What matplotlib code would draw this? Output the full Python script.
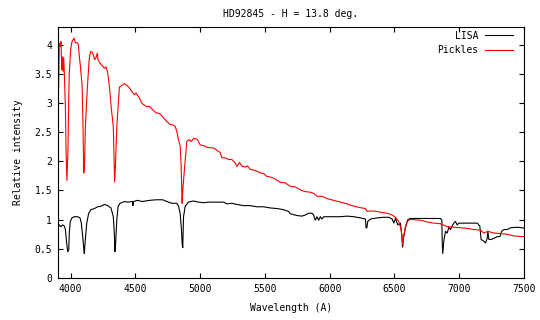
import matplotlib
matplotlib.use('Agg')
import matplotlib.pyplot as plt

# Pickles template (red)
pickles_wl = [3908, 3913, 3921, 3926, 3932, 3936, 3942, 3947, 3952, 3960, 3966, 3972, 3980,
              3986, 3990, 4001, 4011, 4027, 4037, 4052, 4060, 4068, 4075, 4089, 4096, 4102, 4108,
              4114, 4125, 4135, 4145, 4155, 4166, 4176, 4187, 4197, 4207, 4212, 4228, 4248,
              4261, 4274, 4287, 4300, 4313, 4330, 4336, 4340, 4346, 4357, 4367, 4377, 4390,
              4403, 4416, 4434, 4454, 4481, 4493, 4506, 4532, 4552, 4583, 4609, 4635, 4660,
              4686, 4712, 4743, 4769, 4794, 4807, 4820, 4833, 4846, 4854, 4858, 4861, 4866,
              4879, 4890, 4897, 4915, 4931, 4949, 4975, 4987, 5000, 5026, 5052, 5078, 5103,
              5129, 5155, 5168, 5193, 5219, 5245, 5271, 5284, 5304, 5322, 5348, 5366, 5387,
              5412, 5438, 5464, 5490, 5515, 5541, 5567, 5619, 5657, 5696, 5735, 5773, 5812,
              5850, 5876, 5902, 5941, 5980, 6031, 6083, 6134, 6173, 6224, 6276, 6289, 6315,
              6366, 6405, 6443, 6482, 6508, 6533, 6552, 6560, 6563, 6568, 6585, 6598, 6618,
              6649, 6701, 6752, 6804, 6855, 6907, 6958, 7010, 7062, 7113, 7165, 7190, 7221,
              7268, 7319, 7371, 7422, 7474, 7500]
pickles_flux = [3.25, 4.02, 3.97, 4.05, 3.57, 3.79, 3.54, 3.78, 3.50, 2.94, 2.10, 1.67, 2.20,
                3.08, 3.51, 3.92, 4.05, 4.11, 4.03, 4.03, 4.00, 3.79, 3.65, 3.31, 2.60, 1.80, 1.95,
                2.56, 3.08, 3.45, 3.77, 3.88, 3.87, 3.82, 3.74, 3.78, 3.85, 3.74, 3.68, 3.63,
                3.59, 3.62, 3.51, 3.28, 2.94, 2.59, 2.00, 1.65, 1.90, 2.59, 2.94, 3.27, 3.29,
                3.31, 3.33, 3.30, 3.26, 3.17, 3.14, 3.17, 3.08, 2.99, 2.94, 2.94, 2.88, 2.83,
                2.82, 2.76, 2.68, 2.63, 2.62, 2.60, 2.51, 2.37, 2.26, 1.91, 1.50, 1.28, 1.50,
                1.86, 2.14, 2.34, 2.37, 2.34, 2.39, 2.38, 2.34, 2.28, 2.27, 2.24, 2.23, 2.23,
                2.19, 2.15, 2.06, 2.06, 2.03, 2.03, 1.97, 1.91, 1.98, 1.92, 1.90, 1.92, 1.86,
                1.85, 1.83, 1.80, 1.79, 1.74, 1.73, 1.71, 1.64, 1.63, 1.57, 1.56, 1.51, 1.48,
                1.47, 1.45, 1.40, 1.40, 1.36, 1.33, 1.30, 1.27, 1.24, 1.21, 1.19, 1.14, 1.15,
                1.14, 1.12, 1.11, 1.08, 1.04, 0.97, 0.83, 0.66, 0.58, 0.66, 0.88, 0.97, 1.00,
                1.00, 0.99, 0.96, 0.94, 0.93, 0.88, 0.87, 0.86, 0.85, 0.83, 0.82, 0.77, 0.80,
                0.77, 0.76, 0.75, 0.72, 0.71, 0.71]

# LISA spectrum (black)
lisa_wl = [3908, 3913, 3926, 3939, 3952, 3960, 3970, 3978, 3986, 3990, 3998, 4011, 4029,
           4055, 4073, 4083, 4094, 4102, 4106, 4114, 4125, 4140, 4158, 4184, 4210, 4235,
           4261, 4287, 4312, 4330, 4338, 4342, 4348, 4357, 4367, 4383, 4416, 4442, 4478,
           4481, 4486, 4515, 4554, 4609, 4660, 4712, 4743, 4782, 4820, 4833, 4846, 4856,
           4861, 4866, 4872, 4885, 4910, 4949, 4987, 5026, 5065, 5104, 5142, 5181, 5207,
           5245, 5284, 5335, 5387, 5438, 5490, 5541, 5593, 5644, 5683, 5696, 5748, 5786,
           5812, 5838, 5864, 5876, 5889, 5902, 5915, 5928, 5941, 5954, 5980, 6031, 6083,
           6134, 6186, 6237, 6276, 6281, 6287, 6294, 6315, 6366, 6417, 6456, 6482, 6495,
           6508, 6526, 6546, 6556, 6563, 6570, 6585, 6603, 6624, 6675, 6752, 6804, 6855,
           6866, 6869, 6873, 6881, 6894, 6907, 6920, 6933, 6946, 6958, 6971, 6984, 6997,
           7023, 7062, 7100, 7139, 7159, 7169, 7190, 7203, 7216, 7221, 7229, 7247, 7268,
           7294, 7314, 7327, 7345, 7371, 7396, 7448, 7487, 7500]
lisa_flux = [0.88, 0.91, 0.88, 0.91, 0.89, 0.83, 0.60, 0.45, 0.48, 0.77, 0.97, 1.03, 1.05,
             1.05, 1.03, 0.94, 0.71, 0.50, 0.42, 0.66, 0.94, 1.11, 1.17, 1.19, 1.22, 1.23,
             1.26, 1.24, 1.20, 1.05, 0.77, 0.45, 0.60, 1.00, 1.23, 1.28, 1.31, 1.30, 1.31,
             1.24, 1.31, 1.33, 1.31, 1.33, 1.34, 1.34, 1.31, 1.28, 1.28, 1.23, 1.11, 0.83,
             0.60, 0.52, 1.05, 1.23, 1.30, 1.32, 1.30, 1.29, 1.30, 1.30, 1.30, 1.30, 1.27,
             1.28, 1.26, 1.24, 1.24, 1.22, 1.22, 1.20, 1.19, 1.17, 1.14, 1.10, 1.07, 1.06,
             1.08, 1.11, 1.11, 1.08, 0.99, 1.05, 0.99, 1.05, 1.01, 1.05, 1.05, 1.05, 1.05,
             1.06, 1.05, 1.03, 1.01, 0.86, 0.86, 0.97, 1.01, 1.03, 1.04, 1.04, 1.01, 0.94,
             1.02, 0.91, 0.94, 0.75, 0.53, 0.70, 0.86, 1.00, 1.02, 1.02, 1.02, 1.02, 1.02,
             0.99, 0.60, 0.42, 0.63, 0.80, 0.77, 0.87, 0.83, 0.89, 0.94, 0.97, 0.91, 0.94,
             0.94, 0.94, 0.94, 0.94, 0.89, 0.66, 0.63, 0.60, 0.68, 0.80, 0.66, 0.66, 0.68,
             0.71, 0.71, 0.80, 0.83, 0.83, 0.86, 0.87, 0.86, 0.85]

plt.rcParams['font.family'] = ['DejaVu Sans Mono']
plt.rcParams['font.size'] = 7

fig = plt.figure(figsize=(5.4, 3.2), dpi=100)
ax = fig.add_axes([57.6/540, 42/320, (524-57.6)/540, (278-27)/320])

ax.plot(lisa_wl, lisa_flux, color='black', lw=0.8, label='LISA')
ax.plot(pickles_wl, pickles_flux, color='red', lw=0.8, label='Pickles')

ax.set_xlim(3900, 7500)
ax.set_ylim(0, 4.3)
ax.set_xticks(range(4000, 7501, 500))
ax.set_yticks([0, 0.5, 1, 1.5, 2, 2.5, 3, 3.5, 4])
ax.set_yticklabels(['0', '0.5', '1', '1.5', '2', '2.5', '3', '3.5', '4'])
ax.tick_params(direction='in', top=True, right=True, length=3.5, width=0.8, pad=4)
for s in ax.spines.values():
    s.set_linewidth(0.8)

ax.set_title('HD92845 - H = 13.8 deg.', fontsize=7, pad=7)
ax.set_xlabel('Wavelength (A)', labelpad=7)
ax.set_ylabel('Relative intensity', labelpad=8)

ax.legend(loc='upper right', bbox_to_anchor=(0.985, 1.0), frameon=False, markerfirst=False,
          handlelength=2.9, handletextpad=0.7, borderaxespad=0.0, labelspacing=0.45)

fig.savefig('out.png', dpi=100)
